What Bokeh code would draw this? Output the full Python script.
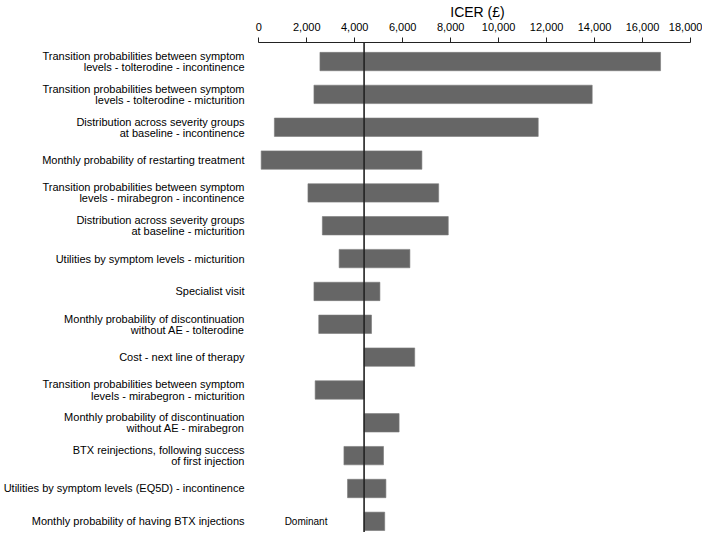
from bokeh.plotting import figure
from bokeh.models import (Range1d, FixedTicker, NumeralTickFormatter,
                          Span, ColumnDataSource)
from bokeh.core.properties import value
from bokeh.embed import file_html
from bokeh.resources import INLINE

# ---- data ----
parameters = [
    "Transition probabilities between symptom\nlevels - tolterodine - incontinence",
    "Transition probabilities between symptom\nlevels - tolterodine - micturition",
    "Distribution across severity groups\nat baseline - incontinence",
    "Monthly probability of restarting treatment",
    "Transition probabilities between symptom\nlevels - mirabegron - incontinence",
    "Distribution across severity groups\nat baseline - micturition",
    "Utilities by symptom levels - micturition",
    "Specialist visit",
    "Monthly probability of discontinuation\nwithout AE - tolterodine",
    "Cost - next line of therapy",
    "Transition probabilities between symptom\nlevels - mirabegron - micturition",
    "Monthly probability of discontinuation\nwithout AE - mirabegron",
    "BTX reinjections, following success\nof first injection",
    "Utilities by symptom levels (EQ5D) - incontinence",
    "Monthly probability of having BTX injections",
]
base_icer = 4390
icer_low = [2550, 2300, 650, 100, 2050, 2650, 3350, 2300, 2500, 4390, 2350, 4390, 3550, 3700, 4390]
icer_high = [16750, 13900, 11650, 6800, 7500, 7900, 6300, 5050, 4700, 6500, 4390, 5850, 5200, 5300, 5250]
x_ticks = [0, 2000, 4000, 6000, 8000, 10000, 12000, 14000, 16000, 18000]
note_text = "Dominant"
note_index = 14

FONT = "Liberation Sans"

rows = list(range(len(parameters)))          # row 0 at the top
src = ColumnDataSource(dict(row=rows, low=icer_low, high=icer_high))

p = figure(
    width=702, height=532,
    x_range=Range1d(-262, 18499),
    y_range=Range1d(14.34, -0.58),           # flipped: first parameter on top
    x_axis_location="above",
    output_backend="svg", toolbar_location=None,
    min_border_left=0, min_border_right=0, min_border_top=0, min_border_bottom=0,
)
p.outline_line_color = None
p.xgrid.grid_line_color = None
p.ygrid.grid_line_color = None
p.background_fill_color = "white"
p.border_fill_color = "white"

p.hbar(y="row", left="low", right="high", height=0.56, source=src,
       fill_color="#666666", line_color="#7a7a7a", line_width=0.6)

p.add_layout(Span(location=base_icer, dimension="height",
                  line_color="#222222", line_width=1.6))

p.text(x=[base_icer - 2420], y=[rows[note_index]], text=[note_text],
       text_font=value(FONT), text_font_size="10px", text_color="black",
       text_align="center", text_baseline="middle")

# top axis
xa = p.xaxis[0]
xa.ticker = FixedTicker(ticks=x_ticks)
xa.formatter = NumeralTickFormatter(format="0,0")
xa.bounds = (0, 18000)
xa.axis_label = "ICER (£)"
xa.axis_label_text_font = FONT
xa.axis_label_text_font_size = "14px"
xa.axis_label_text_font_style = "normal"
xa.axis_label_text_color = "black"
xa.axis_label_standoff = 0
xa.major_label_text_font = FONT
xa.major_label_text_font_size = "11px"
xa.major_label_text_color = "black"
xa.major_label_standoff = 7
xa.major_tick_out = 5
xa.major_tick_in = 0
xa.minor_tick_out = 0
xa.minor_tick_in = 0
xa.axis_line_color = "#222222"
xa.major_tick_line_color = "#222222"

# left axis: parameter names as tick labels
ya = p.yaxis[0]
ya.ticker = FixedTicker(ticks=rows)
ya.major_label_overrides = {r: name for r, name in zip(rows, parameters)}
ya.axis_line_color = None
ya.major_tick_line_color = None
ya.minor_tick_line_color = None
ya.major_tick_out = 0
ya.major_tick_in = 0
ya.minor_tick_out = 0
ya.minor_tick_in = 0
ya.major_label_standoff = 8
ya.major_label_text_font = FONT
ya.major_label_text_font_size = "11px"
ya.major_label_text_color = "black"
ya.major_label_text_line_height = 0.93

open("out.html", "w").write(file_html(p, INLINE))
